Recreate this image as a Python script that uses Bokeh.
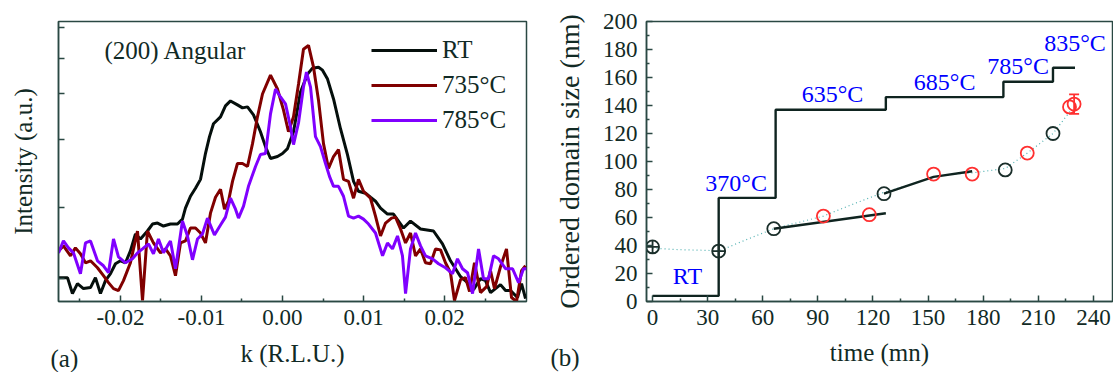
from bokeh.plotting import figure
from bokeh.layouts import row
from bokeh.models import (FixedTicker, PrintfTickFormatter, Legend, LegendItem, Label, Title,
                          ColumnDataSource, Whisker, TeeHead, Range1d, CustomLabelingPolicy)
from bokeh.core.properties import value
from bokeh.embed import file_html
from bokeh.resources import INLINE

FONT = "Liberation Serif"
TXT = "#112a25"
FRAME = "#2a4843"

# ---------------- panel (a): (200) angular scans ----------------
k_rt = [-0.02765, -0.02654, -0.02593, -0.02531, -0.02457, -0.02370, -0.02309, -0.02247, -0.02185, -0.02123,
        -0.02062, -0.02000, -0.01938, -0.01877, -0.01815, -0.01753, -0.01667, -0.01605, -0.01543, -0.01469,
        -0.01383, -0.01296, -0.01235, -0.01198, -0.01136, -0.01074, -0.01012, -0.00951, -0.00901, -0.00852,
        -0.00765, -0.00704, -0.00642, -0.00556, -0.00494, -0.00432, -0.00358, -0.00272, -0.00210, -0.00148,
        -0.00062, 0.00000, 0.00062, 0.00136, 0.00222, 0.00309, 0.00370, 0.00444, 0.00494, 0.00556,
        0.00630, 0.00716, 0.00802, 0.00877, 0.00938, 0.01025, 0.01086, 0.01148, 0.01210, 0.01296,
        0.01370, 0.01494, 0.01580, 0.01704, 0.01864, 0.01975, 0.02074, 0.02198, 0.02284, 0.02358,
        0.02444, 0.02506, 0.02568, 0.02691, 0.02753, 0.02815, 0.02901, 0.02951, 0.03000]
i_rt = [24, 24, 8, 18, 13, 14, 24, 8, 21, 28,
        38, 41, 39, 51, 68, 63, 71, 78, 79, 76,
        78, 78, 83, 94, 106, 114, 123, 149, 166, 179,
        186, 197, 202, 198, 195, 196, 188, 171, 156, 144,
        146, 149, 154, 171, 211, 229, 235, 236, 233, 224,
        204, 174, 148, 121, 111, 109, 105, 101, 94, 88,
        88, 74, 81, 73, 71, 58, 41, 25, 19, 12,
        23, 21, 9, 17, 11, 11, 4, 18, 3]

k_735 = [-0.02765, -0.02704, -0.02617, -0.02556, -0.02494, -0.02432, -0.02370, -0.02284, -0.02210, -0.02148,
         -0.02086, -0.02025, -0.01963, -0.01877, -0.01790, -0.01728, -0.01667, -0.01593, -0.01506, -0.01444,
         -0.01383, -0.01321, -0.01259, -0.01198, -0.01136, -0.01074, -0.01012, -0.00951, -0.00889, -0.00827,
         -0.00765, -0.00716, -0.00667, -0.00617, -0.00556, -0.00494, -0.00432, -0.00370, -0.00309, -0.00247,
         -0.00148, -0.00062, 0.00012, 0.00074, 0.00136, 0.00198, 0.00259, 0.00321, 0.00383, 0.00444,
         0.00506, 0.00568, 0.00630, 0.00691, 0.00753, 0.00815, 0.00877, 0.00938, 0.01000, 0.01086,
         0.01148, 0.01210, 0.01272, 0.01346, 0.01395, 0.01457, 0.01519, 0.01580, 0.01642, 0.01704,
         0.01765, 0.01827, 0.01889, 0.01951, 0.02012, 0.02074, 0.02123, 0.02198, 0.02259, 0.02309,
         0.02370, 0.02444, 0.02519, 0.02568, 0.02617, 0.02691, 0.02765, 0.02827, 0.02889, 0.02951,
         0.03000]
i_735 = [51, 56, 46, 54, 48, 39, 41, 34, 26, 19,
         13, 11, 21, 39, 71, 1, 71, 59, 49, 53,
         46, 26, 59, 61, 74, 74, 69, 59, 89, 105,
         113, 93, 101, 121, 139, 139, 136, 159, 186, 209,
         228, 214, 193, 171, 186, 219, 254, 258, 236, 203,
         159, 134, 146, 153, 123, 121, 104, 123, 111, 104,
         86, 66, 79, 84, 85, 73, 59, 69, 46, 53,
         39, 38, 53, 52, 39, 29, 1, 22, 24, 10,
         39, 9, 15, 31, 13, 35, 53, 4, 0, 31,
         36]

k_785 = [-0.02765, -0.02704, -0.02642, -0.02580, -0.02494, -0.02432, -0.02370, -0.02284, -0.02210, -0.02148,
         -0.02086, -0.02025, -0.01938, -0.01852, -0.01790, -0.01728, -0.01654, -0.01593, -0.01531, -0.01469,
         -0.01420, -0.01383, -0.01321, -0.01235, -0.01173, -0.01111, -0.01049, -0.00988, -0.00926, -0.00840,
         -0.00765, -0.00704, -0.00642, -0.00580, -0.00543, -0.00481, -0.00420, -0.00333, -0.00272, -0.00210,
         -0.00148, -0.00086, -0.00025, 0.00037, 0.00099, 0.00136, 0.00198, 0.00259, 0.00296, 0.00346,
         0.00407, 0.00469, 0.00531, 0.00580, 0.00630, 0.00691, 0.00753, 0.00815, 0.00877, 0.00938,
         0.01000, 0.01062, 0.01148, 0.01235, 0.01296, 0.01358, 0.01420, 0.01481, 0.01519, 0.01580,
         0.01642, 0.01704, 0.01765, 0.01852, 0.01926, 0.02012, 0.02099, 0.02160, 0.02222, 0.02284,
         0.02346, 0.02420, 0.02481, 0.02543, 0.02605, 0.02667, 0.02753, 0.02840, 0.02914, 0.02975,
         0.03012]
i_785 = [49, 61, 54, 49, 28, 59, 61, 41, 36, 29,
         63, 45, 39, 43, 49, 53, 58, 48, 63, 49,
         56, 61, 33, 81, 66, 42, 63, 68, 84, 67,
         77, 85, 104, 93, 84, 96, 116, 136, 148, 149,
         189, 214, 206, 199, 176, 158, 180, 216, 231, 216,
         166, 156, 139, 126, 116, 116, 106, 86, 84, 86,
         83, 78, 69, 46, 59, 53, 66, 46, 8, 53,
         69, 56, 46, 43, 38, 34, 28, 43, 33, 29,
         8, 53, 23, 23, 46, 43, 33, 33, 19, 33,
         33]

k_ticks = [-0.02, -0.01, 0.0, 0.01, 0.02]
k_minor = [-0.025, -0.015, -0.005, 0.005, 0.015, 0.025]
i_ticks = [23, 95, 163, 209, 245, 276]

# ---------------- panel (b): ordered domain size vs time ----------------
t_black = [0, 36, 66, 126, 192, 218]
s_black = [39, 36, 52, 77, 94, 120]
t_red = [93, 118, 153, 174, 204, 227, 229.5]
s_red = [61, 62, 91, 91, 106, 139, 141]
t_err = [229.5]
s_err_lo = [134]
s_err_hi = [148]

t_step = [0, 36, 36, 67, 67, 127, 127, 191, 191, 218, 218, 230]
s_step = [4, 4, 74, 74, 137, 137, 146, 146, 157, 157, 167, 167]

t_fit1 = [66, 127]
s_fit1 = [52, 63]
t_fit2 = [126, 153, 174]
s_fit2 = [77, 89, 93]

t_guide = [0, 15, 30, 36, 48, 66, 81, 93, 110, 126, 139, 153, 164, 175, 192, 204, 218, 228]
s_guide = [38, 37, 36.5, 36, 42.5, 52, 57, 61, 70, 78, 83, 89, 91, 92, 95, 106, 120, 137]

lab_t = [19, 45.5, 98, 159, 199, 230]
lab_s = [18, 85, 148, 157, 168, 185]
lab_txt = ["RT", "370°C", "635°C", "685°C", "785°C", "835°C"]

t_ticks = [0, 30, 60, 90, 120, 150, 180, 210, 240]
t_minor = [15, 45, 75, 105, 135, 165, 195, 225]
s_ticks = [0, 20, 40, 60, 80, 100, 120, 140, 160, 180, 200]
s_minor = [10, 30, 50, 70, 90, 110, 130, 150, 170, 190]


def style_axes(p):
    p.grid.visible = False
    p.outline_line_color = FRAME
    p.outline_line_width = 1.5
    p.background_fill_color = "white"
    p.border_fill_color = "white"
    for ax in p.axis:
        ax.axis_line_color = FRAME
        ax.axis_line_width = 1.5
        ax.major_tick_line_color = FRAME
        ax.minor_tick_line_color = FRAME
        ax.major_tick_line_width = 1.5
        ax.minor_tick_line_width = 1.5
        ax.major_tick_in = 6
        ax.major_tick_out = 0
        ax.minor_tick_in = 3
        ax.minor_tick_out = 0
        ax.major_label_text_font = FONT
        ax.major_label_text_font_size = "23px"
        ax.major_label_text_color = TXT
        ax.axis_label_text_font = FONT
        ax.axis_label_text_font_size = "25px"
        ax.axis_label_text_font_style = "normal"
        ax.axis_label_text_color = TXT


def panel_tag(text, offset):
    return Title(text=text, align="left", offset=offset, standoff=-50, vertical_align="top",
                 text_font=FONT, text_font_size="25px", text_font_style="normal", text_color=TXT)


# ---- figure (a)
p1 = figure(width=545, height=372, x_range=Range1d(-0.02765, 0.03012), y_range=Range1d(0, 282),
            output_backend="svg", toolbar_location=None,
            min_border_left=58, min_border_right=19, min_border_top=19, min_border_bottom=71)
style_axes(p1)
p1.xaxis.ticker = FixedTicker(ticks=k_ticks, minor_ticks=k_minor)
p1.xaxis.formatter = PrintfTickFormatter(format="%.2f")
p1.yaxis.ticker = FixedTicker(ticks=i_ticks, minor_ticks=[])
p1.yaxis.major_label_text_font_size = "0px"
p1.yaxis.major_label_standoff = 0
p1.yaxis.major_label_policy = CustomLabelingPolicy(code="return new Set()")
p1.xaxis.axis_label = "k (R.L.U.)"
p1.yaxis.axis_label = "Intensity (a.u.)"
p1.xaxis.major_label_standoff = 8
p1.xaxis.axis_label_standoff = 12
p1.yaxis.axis_label_standoff = 22

r_rt = p1.line(k_rt, i_rt, line_color="#050f0c", line_width=3)
r_735 = p1.line(k_735, i_735, line_color="#800000", line_width=3)
r_785 = p1.line(k_785, i_785, line_color="#8000ff", line_width=3)

legend = Legend(items=[LegendItem(label="RT", renderers=[r_rt]),
                       LegendItem(label="735°C", renderers=[r_735]),
                       LegendItem(label="785°C", renderers=[r_785])],
                location=(313, 166))
legend.label_text_font = FONT
legend.label_text_font_size = "25px"
legend.label_text_color = TXT
legend.glyph_width = 66
legend.glyph_height = 30
legend.label_height = 30
legend.spacing = 5
legend.padding = 0
legend.margin = 0
legend.label_standoff = 5
legend.border_line_color = None
legend.background_fill_alpha = 0
p1.add_layout(legend)

p1.add_layout(Label(x=46, y=251, x_units="screen", y_units="screen", text="(200) Angular",
                    text_font=FONT, text_font_size="25px", text_color=TXT,
                    text_baseline="middle", text_align="left"))
p1.add_layout(panel_tag("(a)", -8), "below")

# ---- figure (b)
p2 = figure(width=568, height=372, x_range=Range1d(-3.3, 250.4), y_range=Range1d(0, 200),
            output_backend="svg", toolbar_location=None,
            min_border_left=101, min_border_right=1, min_border_top=21, min_border_bottom=69)
style_axes(p2)
p2.xaxis.ticker = FixedTicker(ticks=t_ticks, minor_ticks=t_minor)
p2.yaxis.ticker = FixedTicker(ticks=s_ticks, minor_ticks=s_minor)
p2.xaxis.axis_label = "time (mn)"
p2.yaxis.axis_label = "Ordered domain size (nm)"
p2.yaxis.axis_label_text_font_size = "28px"
p2.xaxis.major_label_standoff = 8
p2.xaxis.axis_label_standoff = 11
p2.yaxis.major_label_standoff = 9
p2.yaxis.axis_label_standoff = 15

p2.line(t_guide, s_guide, line_color="#4fb0b0", line_width=1.2, line_dash="1 3")
p2.line(t_step, s_step, line_color="#0f2420", line_width=2.4)
p2.line(t_fit1, s_fit1, line_color="#0f2420", line_width=2.4)
p2.line(t_fit2, s_fit2, line_color="#0f2420", line_width=2.4)

err_src = ColumnDataSource(dict(t=t_err, lo=s_err_lo, hi=s_err_hi))
p2.add_layout(Whisker(source=err_src, base="t", lower="lo", upper="hi", dimension="height",
                      line_color="#ff3030", line_width=1.8,
                      upper_head=TeeHead(size=10, line_color="#ff3030", line_width=1.8),
                      lower_head=TeeHead(size=10, line_color="#ff3030", line_width=1.8)))

p2.scatter(t_black[:2], s_black[:2], marker="circle_cross", size=13, fill_color=None,
           line_color="#1a2e2a", line_width=1.8)
p2.scatter(t_black[2:], s_black[2:], marker="circle", size=13, fill_color=None,
           line_color="#1a2e2a", line_width=1.8)
p2.scatter(t_red, s_red, marker="circle", size=13, fill_color=None,
           line_color="#ff3030", line_width=1.8)

p2.text(x=lab_t, y=lab_s, text=lab_txt, text_font=value(FONT), text_font_size="24px",
        text_color="#0000ff", text_align="center", text_baseline="middle")

p2.add_layout(panel_tag("(b)", -96), "below")

layout = row(p1, p2)
open("out.html", "w").write(file_html(layout, INLINE))
